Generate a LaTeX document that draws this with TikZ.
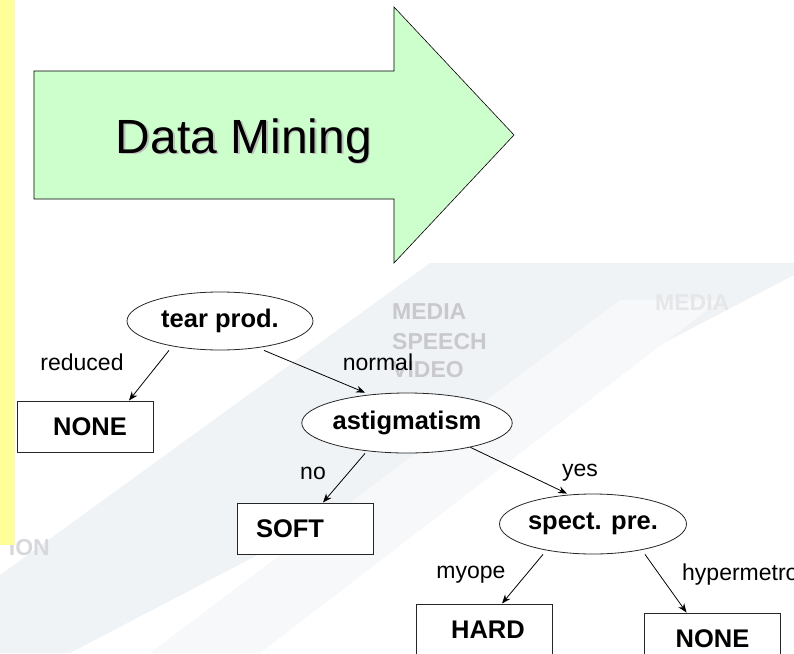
\documentclass[tikz,border=0pt]{standalone}
\usepackage{fontspec}
\setmainfont{Liberation Sans}
\usepackage{tikz}
\usetikzlibrary{arrows,arrows.meta}
\usetikzlibrary{shapes.geometric}
\usetikzlibrary{positioning}

\definecolor{stripyellow}{RGB}{255,255,153}
\definecolor{arrowgreen}{RGB}{204,255,204}
\definecolor{bandgray}{RGB}{240,243,246}
\definecolor{markgray}{RGB}{200,200,205}

\tikzset{
	decision/.style={ellipse, draw=black!85, line width=0.8pt, fill=white, inner sep=0pt,
		font=\fontsize{25.5}{30}\selectfont\bfseries},
	leaf/.style={rectangle, draw=black!85, line width=1pt, fill=white, inner sep=0pt,
		minimum width=136pt, minimum height=51pt, font=\fontsize{25.5}{30}\selectfont\bfseries},
	lbl/.style={font=\fontsize{23}{28}\selectfont, inner sep=0pt},
	faint/.style={font=\fontsize{23}{26}\selectfont\bfseries, text=markgray, inner sep=0pt},
	branch/.style={-{Stealth[length=9pt,width=7pt]}, line width=0.8pt}
}

\begin{document}
\begin{tikzpicture}[x=1pt, y=-1pt]
	\useasboundingbox (0,0) rectangle (794,653);
	% background picture, only hinted
	\fill[bandgray] (0,575) -- (430,263) -- (794,263) -- (794,275) -- (70,653) -- (0,653) -- cycle;
	\fill[bandgray!60] (150,653) -- (620,300) -- (720,300) -- (260,653) -- cycle;
	\node[faint, anchor=west] (m1) at (392,312) {MEDIA};
	\node[faint, anchor=west] (m2) at (392,342) {SPEECH};
	\node[faint, anchor=west] (m3) at (392,370) {VIDEO};
	\node[faint, anchor=west, text=markgray!45] (m4) at (655,303) {MEDIA};
	\node[faint, anchor=east, text=markgray!70] (m5) at (50,548) {ION};
	% left strip
	\fill[stripyellow] (0,0) rectangle (15,545);
	% big arrow
	\draw[fill=arrowgreen, line width=0.6pt] (34,71) -- (394,71) -- (394,7) -- (514,135)
		-- (394,263) -- (394,199) -- (34,199) -- cycle;
	\node[anchor=base, text=black!25, font=\fontsize{48}{56}\selectfont] (dmshadow) at (245.5,154.5) {Data Mining};
	\node[anchor=base, font=\fontsize{48}{56}\selectfont] (dm) at (244,153) {Data Mining};

	% tree
	\node[decision, minimum width=186pt, minimum height=58pt] (tear) at (220,321) {tear prod.};
	\node[decision, minimum width=188pt, minimum height=60pt] (astig) at (407,423) {astigmatism};
	\node[decision, minimum width=187pt, minimum height=60pt] (spect) at (593,524) {spect. pre.};
	\node[leaf] (none1) at (85,426.5) {\hspace{10pt}NONE};
	\node[leaf] (soft) at (305,528.5) {SOFT\rule{30pt}{0pt}};
	\node[leaf] (hard) at (484,629.5) {\hspace{8pt}HARD};
	\node[leaf] (none2) at (712.5,638.5) {NONE};

	\draw[branch] ([xshift=-51pt]tear.south) -- ([xshift=44pt]none1.north);
	\draw[branch] ([xshift=44pt]tear.south) -- ([xshift=-42pt]astig.north);
	\draw[branch] ([xshift=-42pt]astig.south) -- ([xshift=18pt]soft.north);
	\draw[branch] (astig.-21) -- ([xshift=-26pt]spect.north);
	\draw[branch] ([xshift=-50pt]spect.south) -- ([xshift=18pt]hard.north);
	\draw[branch] ([xshift=52pt]spect.south) -- ([xshift=-26pt]none2.north);

	\node[lbl] (lreduced) at (82,362) {reduced};
	\node[lbl] (lnormal) at (378,362) {normal};
	\node[lbl] (lno) at (313,473) {no};
	\node[lbl] (lyes) at (580,473) {yes};
	\node[lbl] (lmyope) at (471,575) {myope};
	\node[lbl, anchor=west] (lhyper) at (682,575) {hypermetrope};
\end{tikzpicture}
\end{document}
